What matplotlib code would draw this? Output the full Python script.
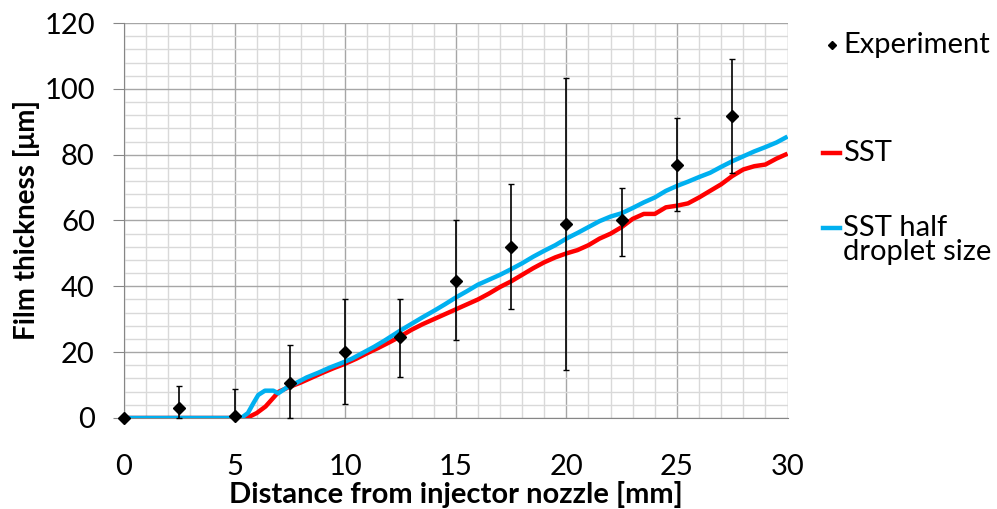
import matplotlib
matplotlib.use("Agg")
import matplotlib.pyplot as plt
from matplotlib.lines import Line2D
from matplotlib.ticker import MultipleLocator
import numpy as np

plt.rcParams['font.family'] = ['Lato', 'DejaVu Sans']

# Measured film thickness with asymmetric error bars
exp_x = [0, 2.5, 5, 7.5, 10, 12.5, 15, 17.5, 20, 22.5, 25, 27.5]
exp_y = [0, 3, 0.5, 10.5, 20, 24.5, 41.7, 52, 59, 60, 77, 91.8]
exp_lo = [0, 3, 0.5, 10.5, 15.7, 12.0, 18.0, 18.8, 44.4, 10.7, 14.0, 17.5]
exp_hi = [0, 6.7, 8.3, 11.7, 16.2, 11.7, 18.3, 19.1, 44.4, 10.0, 14.0, 17.3]

# SST simulation
sst_x = [0, 5.4, 5.7, 6.0, 6.4, 6.8, 7.0, 7.5, 8, 8.5, 9, 9.5, 10, 10.5, 11, 11.5,
         12, 12.5, 13, 13.5, 14, 14.5, 15, 15.5, 16, 16.5, 17, 17.5, 18, 18.5, 19,
         19.5, 20, 20.5, 21, 21.5, 22, 22.5, 23, 23.5, 24, 24.5, 25, 25.5, 26, 26.5,
         27, 27.5, 28, 28.5, 29, 29.5, 30]
sst_y = [0, 0, 0.5, 1.5, 3.5, 6.5, 8, 9.5, 10.8, 12.3, 13.8, 15.2, 16.5, 18.0, 19.7, 21.3,
         23, 24.8, 26.8, 28.5, 30, 31.5, 33, 34.5, 36, 37.8, 39.8, 41.5, 43.5, 45.5, 47.3,
         48.8, 50, 51, 52.5, 54.5, 56, 58, 60.5, 62, 62, 64, 64.5, 65.2, 67, 69,
         71, 73.5, 75.5, 76.5, 77, 78.8, 80.3]

# SST simulation with half droplet size
half_x = [0, 5.3, 5.6, 5.85, 6.07, 6.37, 6.75, 6.97, 7.35, 7.8, 8.25, 8.8, 9.3, 9.8,
          10.3, 10.8, 11.3, 11.8, 12.5, 13, 13.5, 14, 14.5, 15, 15.5, 16, 16.5, 17,
          17.5, 18, 18.5, 19, 19.5, 20, 20.5, 21, 21.5, 22, 22.5, 23, 23.5, 24, 24.5,
          25, 25.5, 26, 26.5, 27, 27.5, 28, 28.5, 29, 29.5, 30]
half_y = [0, 0, 1.5, 4.5, 7, 8.3, 8.3, 7.5, 9.2, 10.7, 12.3, 13.8, 15.3, 16.6,
          18.0, 19.8, 21.6, 23.6, 26.6, 28.6, 30.6, 32.5, 34.5, 36.6, 38.5, 40.5, 42, 43.5,
          45.2, 47, 49, 50.8, 52.5, 54.5, 56.2, 58, 59.8, 61.2, 62.2, 63.8, 65.5, 67, 69,
          70.5, 71.8, 73.2, 74.5, 76.3, 78, 79.5, 81, 82.3, 83.7, 85.5]

x_label = "Distance from injector nozzle [mm]"
y_label = "Film thickness [μm]"

RED = "#ff0000"
BLUE = "#00b0f0"
FS = 21

fig = plt.figure(figsize=(9.97, 5.09), dpi=100)
ax = fig.add_axes([0.1244, 0.1788, 0.6655, 0.776])

ax.set_xlim(0, 30)
ax.set_ylim(0, 120)
ax.xaxis.set_major_locator(MultipleLocator(5))
ax.xaxis.set_minor_locator(MultipleLocator(1))
ax.yaxis.set_major_locator(MultipleLocator(20))
ax.yaxis.set_minor_locator(MultipleLocator(4))
ax.grid(which='major', color='#a6a6a6', linewidth=1.0)
ax.grid(which='minor', color='#d9d9d9', linewidth=1.0)
ax.set_axisbelow(True)

for side in ('top', 'right'):
    ax.spines[side].set_visible(False)
ax.spines['left'].set_color('#868686')
ax.spines['bottom'].set_color('#868686')

ax.tick_params(axis='y', which='major', length=8, color='#868686', pad=13, labelsize=FS)
ax.tick_params(axis='x', which='major', length=0, pad=26, labelsize=FS)
ax.tick_params(which='minor', length=0)

ax.plot(sst_x, sst_y, color=RED, linewidth=3.2, solid_capstyle='butt', zorder=3)
ax.plot(half_x, half_y, color=BLUE, linewidth=3.2, solid_capstyle='butt', zorder=4)
ax.errorbar(exp_x, exp_y, yerr=[exp_lo, exp_hi], fmt='D', color='black',
            markersize=6, elinewidth=1.2, capsize=2.5, capthick=1.0, zorder=5,
            clip_on=False)

ax.set_xlabel(x_label, fontsize=21, fontweight='bold', labelpad=1)
ax.set_ylabel(y_label, fontsize=20, fontweight='bold', labelpad=3)

# Legend entries on the right
fig.add_artist(Line2D([832 / 997], [1 - 45 / 509], marker='D', markersize=4,
                      color='black', linestyle='none', transform=fig.transFigure))
fig.text(843 / 997, 1 - 45 / 509, "Experiment", fontsize=FS, va='center', ha='left')
fig.add_artist(Line2D([823 / 997, 840 / 997], [1 - 153 / 509] * 2, color=RED,
                      linewidth=3.2, transform=fig.transFigure))
fig.text(843 / 997, 1 - 153 / 509, "SST", fontsize=FS, va='center', ha='left')
fig.add_artist(Line2D([823 / 997, 840 / 997], [1 - 228 / 509] * 2, color=BLUE,
                      linewidth=3.2, transform=fig.transFigure))
fig.text(843 / 997, 1 - 228 / 509, "SST half", fontsize=FS, va='center', ha='left')
fig.text(843 / 997, 1 - 252 / 509, "droplet size", fontsize=FS, va='center', ha='left')

fig.savefig("out.png", dpi=100)
